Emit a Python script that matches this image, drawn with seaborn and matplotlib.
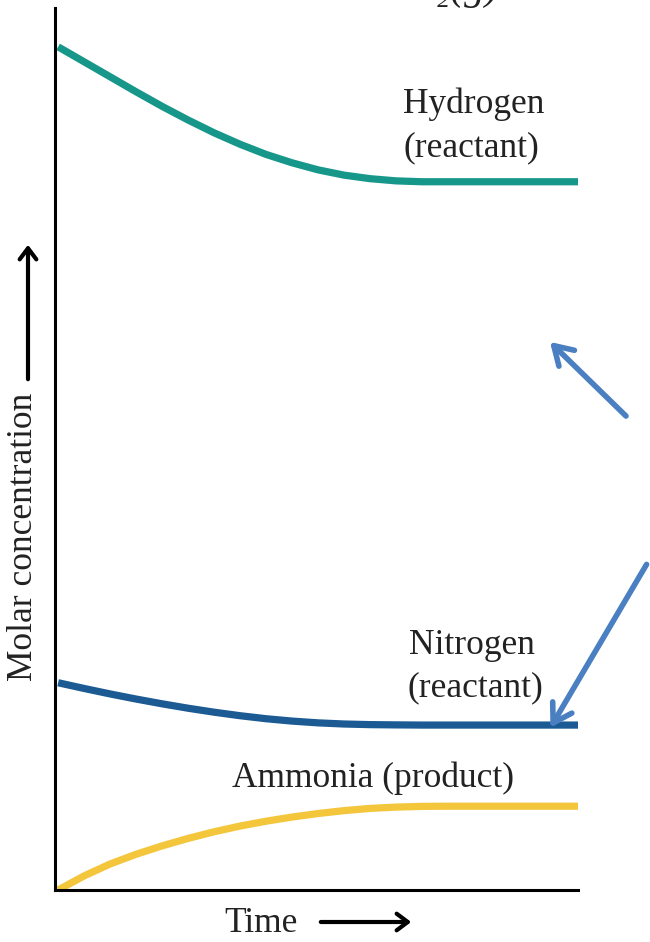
import matplotlib
matplotlib.use("Agg")
import matplotlib.pyplot as plt
import seaborn as sns
import pandas as pd

# ---- data (arbitrary concentration units) ----
time = [0, 0.5, 1, 1.5, 2, 2.5, 3, 3.5, 4, 4.5, 5, 5.5, 6, 6.5, 7, 7.5, 8, 9, 10]
hydrogen = [95.6, 93.9, 92.2, 90.5, 88.85, 87.3, 85.85, 84.55, 83.4, 82.45,
            81.65, 81.05, 80.65, 80.4, 80.3, 80.3, 80.3, 80.3, 80.3]
nitrogen = [23.5, 22.85, 22.23, 21.65, 21.11, 20.61, 20.16, 19.76, 19.42, 19.15,
            18.95, 18.82, 18.75, 18.72, 18.7, 18.7, 18.7, 18.7, 18.7]
ammonia = [0.0, 1.6, 2.95, 4.05, 5.0, 5.85, 6.6, 7.25, 7.8, 8.27,
           8.67, 9.0, 9.25, 9.4, 9.48, 9.5, 9.5, 9.5, 9.5]
series_names = ["Hydrogen", "Nitrogen", "Ammonia"]
colors = {"Hydrogen": "#17968a", "Nitrogen": "#1b5a92", "Ammonia": "#f3c63c"}

df = pd.concat([
    pd.DataFrame({"time": time, "conc": v, "species": n})
    for n, v in zip(series_names, [hydrogen, nitrogen, ammonia])
])

sns.set_theme(style="white")
plt.rcParams["font.family"] = ["Liberation Serif", "DejaVu Serif", "DejaVu Sans"]

W, H = 650, 942
fig = plt.figure(figsize=(W / 100, H / 100), dpi=100)


def px(x, y):
    return x / W, 1 - y / H


L, R, T, B = 55, 578, 8, 890
ax = fig.add_axes([L / W, 1 - B / H, (R - L) / W, (B - T) / H])

sns.lineplot(data=df, x="time", y="conc", hue="species", palette=colors,
             linewidth=5.2, legend=False, ax=ax, sort=False)
for line in ax.lines:
    line.set_solid_capstyle("butt")
    line.set_solid_joinstyle("round")

ax.set_xlim(-0.06, 10)
ax.set_ylim(0, 100)
ax.set_xticks([])
ax.set_yticks([])
ax.set_xlabel("")
ax.set_ylabel("")
for s in ["top", "right"]:
    ax.spines[s].set_visible(False)
for s in ["left", "bottom"]:
    ax.spines[s].set_color("black")
    ax.spines[s].set_linewidth(2.2)

tc = "#222222"
fs = 25.5
fig.text(*px(474, 104), "Hydrogen", ha="center", va="center", fontsize=fs, color=tc)
fig.text(*px(471, 148), "(reactant)", ha="center", va="center", fontsize=fs, color=tc)
fig.text(*px(472, 645), "Nitrogen", ha="center", va="center", fontsize=fs, color=tc)
fig.text(*px(475, 688), "(reactant)", ha="center", va="center", fontsize=fs, color=tc)
fig.text(*px(373, 778), "Ammonia (product)", ha="center", va="center", fontsize=fs, color=tc)

# axis titles
fig.text(*px(261, 923), "Time", ha="center", va="center", fontsize=fs, color=tc)
fig.text(*px(24, 537), "Molar concentration", ha="center", va="center",
         rotation=90, fontsize=fs, color=tc)

# axis arrows
fig.patches.append(matplotlib.patches.FancyArrowPatch(
    px(318, 922), px(414, 922), transform=fig.transFigure,
    arrowstyle="->,head_length=8,head_width=6", lw=3, color="black",
    mutation_scale=1))
fig.patches.append(matplotlib.patches.FancyArrowPatch(
    px(28, 382), px(28, 242), transform=fig.transFigure,
    arrowstyle="->,head_length=8,head_width=6", lw=3, color="black",
    mutation_scale=1))

# partially clipped equation fragment at the top
fig.text(*px(408, -1), "N\u2082(g)", ha="left", va="baseline", fontsize=30,
         color=tc, style="italic")

# blue annotation arrows
blue = "#4a7fc1"
for (x0, y0), (x1, y1) in [((628, 418), (548, 340)), ((648, 562), (549, 730))]:
    fig.patches.append(matplotlib.patches.FancyArrowPatch(
        px(x0, y0), px(x1, y1), transform=fig.transFigure,
        arrowstyle="->,head_length=13,head_width=8", lw=4, color=blue,
        mutation_scale=1))

fig.savefig("out.png", dpi=100)
